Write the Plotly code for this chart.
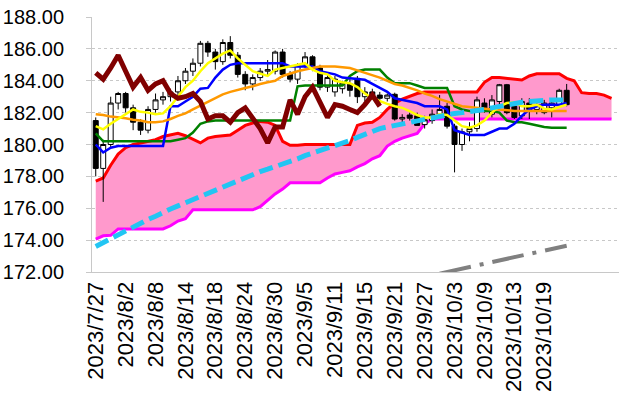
import plotly.graph_objects as go

dates = ["2023/7/27","2023/7/28","2023/7/31","2023/8/1","2023/8/2","2023/8/3","2023/8/4","2023/8/7",
         "2023/8/8","2023/8/9","2023/8/10","2023/8/11","2023/8/14","2023/8/15","2023/8/16","2023/8/17",
         "2023/8/18","2023/8/21","2023/8/22","2023/8/23","2023/8/24","2023/8/25","2023/8/28","2023/8/29",
         "2023/8/30","2023/8/31","2023/9/1","2023/9/4","2023/9/5","2023/9/6","2023/9/7","2023/9/8",
         "2023/9/11","2023/9/12","2023/9/13","2023/9/14","2023/9/15","2023/9/18","2023/9/19","2023/9/20",
         "2023/9/21","2023/9/22","2023/9/25","2023/9/26","2023/9/27","2023/9/28","2023/9/29","2023/10/2",
         "2023/10/3","2023/10/4","2023/10/5","2023/10/6","2023/10/9","2023/10/10","2023/10/11","2023/10/12",
         "2023/10/13","2023/10/16","2023/10/17","2023/10/18","2023/10/19","2023/10/20","2023/10/23","2023/10/24"]
future_dates = ["2023/10/25","2023/10/26","2023/10/27","2023/10/30","2023/10/31","2023/11/1"]
tick_labels = ["2023/7/27","2023/8/2","2023/8/8","2023/8/14","2023/8/18","2023/8/24","2023/8/30","2023/9/5",
               "2023/9/11","2023/9/15","2023/9/21","2023/9/27","2023/10/3","2023/10/9","2023/10/13","2023/10/19"]

open_ = [181.5,178.5,180.0,182.6,183.2,182.3,181.4,180.9,182.2,182.8,183.0,183.3,184.0,184.6,185.1,186.35,
         185.8,185.2,186.4,185.6,184.4,183.8,184.2,184.6,184.6,185.8,184.4,184.1,185.0,185.5,184.8,183.6,
         183.3,183.5,183.8,184.15,183.0,183.3,183.1,182.9,183.15,181.6,181.85,181.8,181.25,181.5,181.9,182.4,
         181.15,180.0,180.8,181.0,182.6,181.9,182.7,183.75,182.4,181.8,182.6,182.2,182.0,182.3,182.5,183.4]
high = [181.7,180.3,183.0,183.3,183.3,182.5,181.6,182.4,183.2,183.3,183.5,184.3,184.8,185.4,186.5,186.5,
        186.0,186.6,186.8,185.8,184.6,184.4,184.8,185.3,185.9,186.0,184.6,185.1,185.8,185.6,185.0,184.4,
        184.3,184.0,184.2,184.3,183.6,183.5,183.3,183.2,183.25,181.9,182.0,182.0,181.8,182.2,183.1,182.6,
        181.3,181.0,181.4,183.0,182.9,183.1,183.8,183.8,182.6,182.9,182.9,182.7,182.8,182.7,183.5,183.8]
low = [178.0,176.4,179.8,182.2,182.0,180.9,180.6,180.7,182.0,182.5,182.7,182.9,183.8,184.3,184.9,185.5,
       184.7,185.0,185.4,184.2,183.4,183.4,184.0,184.3,184.4,184.2,183.9,183.8,184.8,184.6,183.4,183.3,
       183.0,183.2,183.0,182.6,182.7,182.8,182.6,182.7,181.5,181.3,181.5,181.2,181.0,181.3,181.6,181.0,
       178.25,179.6,180.2,180.8,182.0,181.7,182.5,181.9,181.6,181.6,181.6,181.9,181.9,181.7,182.3,182.4]
close = [178.5,180.0,182.6,183.2,182.3,181.4,180.9,182.2,182.8,183.0,183.3,184.0,184.6,185.1,186.35,185.8,
         185.2,186.4,185.6,184.4,183.8,184.2,184.6,184.7,185.8,184.4,184.1,185.0,185.5,184.8,183.6,184.2,
         184.1,183.85,183.4,183.0,183.3,183.1,182.9,183.1,181.6,181.7,181.65,181.2,181.55,181.9,182.2,181.15,
         180.0,180.8,181.0,182.8,182.1,182.8,183.75,182.0,181.7,182.7,182.2,182.5,182.6,182.6,183.4,182.5]

tenkan = [180.0,179.5,179.8,179.9,179.9,179.9,179.9,179.9,179.9,179.9,182.4,182.4,182.7,183.0,183.5,183.55,
          184.2,184.7,185.0,185.1,185.1,185.1,185.1,185.1,185.1,185.1,184.9,184.9,184.9,184.9,184.6,184.5,
          184.4,184.2,184.15,184.1,184.06,183.8,183.55,183.3,182.9,182.8,182.7,182.6,182.4,182.4,182.4,182.2,
          180.9,180.75,180.6,180.6,180.6,180.8,181.0,181.0,181.3,181.8,182.2,182.4,182.5,182.5,182.5,182.6]
kijun = [180.7,180.2,180.2,180.2,180.2,180.2,180.2,180.2,180.2,180.2,180.2,180.3,180.4,180.75,181.3,181.45,
         181.5,181.5,181.5,181.5,181.5,181.5,181.5,181.5,181.5,181.5,181.5,183.65,183.7,183.7,183.7,183.7,
         183.7,183.7,184.3,184.6,184.7,184.7,184.7,184.2,183.85,183.85,183.85,183.7,183.55,183.55,183.55,183.55,
         182.4,182.2,182.1,182.1,182.1,182.1,182.0,181.5,181.4,181.4,181.3,181.2,181.1,181.05,181.05,181.05]
ma_short = [181.15,180.95,181.3,181.6,181.9,182.2,182.05,182.0,181.9,181.95,182.4,183.0,183.6,184.0,184.6,185.1,
            185.4,185.7,185.9,185.4,185.0,184.6,184.45,184.3,184.7,184.8,184.9,185.0,185.1,184.7,184.5,184.4,
            184.0,183.9,183.85,183.6,183.2,182.9,182.7,182.55,182.4,182.3,182.1,181.85,181.7,181.7,181.9,181.85,
            181.5,181.15,181.05,181.2,181.5,182.0,182.4,182.6,182.65,182.4,182.4,182.5,182.25,182.2,182.35,182.5]
ma_mid = [181.9,181.85,181.75,181.7,181.65,181.55,181.5,181.4,181.4,181.45,181.6,181.8,181.95,182.2,182.45,182.7,
          182.95,183.15,183.3,183.45,183.55,183.65,183.8,183.9,184.0,184.3,184.45,184.6,184.7,184.8,184.9,184.9,
          184.9,184.85,184.8,184.65,184.5,184.35,184.2,184.0,183.8,183.7,183.55,183.4,183.2,183.05,182.85,182.7,
          182.55,182.4,182.35,182.3,182.25,182.2,182.2,182.15,182.1,182.1,182.1,182.1,182.1,182.1,182.1,182.1]
ma_long = [173.6,173.85,174.1,174.35,174.6,174.8,175.05,175.3,175.5,175.75,175.95,176.15,176.35,176.55,176.75,176.95,
           177.15,177.35,177.55,177.75,177.95,178.1,178.3,178.45,178.6,178.8,178.95,179.1,179.3,179.45,179.6,179.75,
           179.9,180.05,180.25,180.45,180.65,180.85,181.0,181.1,181.2,181.3,181.35,181.45,181.55,181.7,181.8,181.9,
           181.95,182.0,182.05,182.1,182.2,182.3,182.4,182.5,182.6,182.65,182.7,182.75,182.75,182.8,182.8,182.8]
trend_dates = dates[46:64]
trend_vals = [171.9,172.0,172.1,172.2,172.3,172.4,172.5,172.6,172.7,172.8,172.9,173.0,173.1,173.2,173.3,173.4,173.5,173.65]
chikou = [184.5,184.1,184.8,185.6,184.6,183.6,184.2,183.4,183.8,184.0,183.2,182.9,183.0,183.2,182.7,181.6,
          181.8,181.8,181.4,182.0,182.3,181.6,181.0,180.1,181.1,181.1,182.8,181.9,183.0,183.6,182.6,181.7,
          182.5,182.4,182.2,182.0,182.5,183.1,182.4]
span_a = [177.7,177.9,178.7,179.4,179.8,180.0,180.1,180.2,180.3,180.5,180.6,180.7,180.55,180.3,180.1,180.4,
          180.5,180.55,180.6,180.9,181.2,181.35,181.45,181.4,181.2,180.2,179.95,179.95,180.0,180.0,180.0,180.0,
          180.0,180.0,180.0,181.2,181.35,181.4,181.7,182.2,182.6,182.85,183.05,183.2,183.3,183.3,183.3,183.3,
          183.3,183.3,183.3,183.3,183.9,184.2,184.2,184.15,184.1,184.05,184.3,184.44,184.44,184.44,184.44,184.15,
          184.0,183.25,183.2,183.2,183.1,182.9]
span_b = [174.06,174.27,174.3,174.7,174.7,174.7,174.7,174.7,174.7,174.7,174.9,175.2,175.35,175.9,175.9,175.9,
          175.9,175.9,175.9,175.9,175.9,175.9,176.1,176.5,176.9,177.2,177.6,177.6,177.6,177.6,177.6,177.9,
          178.15,178.25,178.35,178.6,178.8,179.1,179.3,179.9,180.2,180.4,180.55,180.7,181.3,181.6,181.6,181.6,
          181.6,181.6,181.6,181.6,181.6,181.6,181.6,181.6,181.6,181.6,181.6,181.6,181.6,181.6,181.6,181.6,
          181.6,181.6,181.6,181.6,181.6,181.6]

all_dates = dates + future_dates

fig = go.Figure()
# cloud on base axes (drawn beneath candles)
fig.add_trace(go.Scatter(x=all_dates, y=span_b, mode="lines", line=dict(color="#FF00FF", width=3),
                         xaxis="x", yaxis="y"))
fig.add_trace(go.Scatter(x=all_dates, y=span_a, mode="lines", line=dict(color="#FF0000", width=3),
                         fill="tonexty", fillcolor="#FF99CC", xaxis="x", yaxis="y"))
# candles and indicator lines on overlay axes
fig.add_trace(go.Candlestick(x=dates, open=open_, high=high, low=low, close=close,
                             increasing=dict(fillcolor="#FFFFFF", line=dict(color="#000000", width=1)),
                             decreasing=dict(fillcolor="#000000", line=dict(color="#000000", width=1)),
                             whiskerwidth=0, xaxis="x2", yaxis="y2"))
fig.add_trace(go.Scatter(x=dates, y=kijun, mode="lines", line=dict(color="#008000", width=2.5), xaxis="x2", yaxis="y2"))
fig.add_trace(go.Scatter(x=dates, y=tenkan, mode="lines", line=dict(color="#0000FF", width=2.5), xaxis="x2", yaxis="y2"))
fig.add_trace(go.Scatter(x=dates, y=ma_mid, mode="lines", line=dict(color="#FF9900", width=2.5), xaxis="x2", yaxis="y2"))
fig.add_trace(go.Scatter(x=dates, y=ma_short, mode="lines", line=dict(color="#FFFF00", width=2.5), xaxis="x2", yaxis="y2"))
fig.add_trace(go.Scatter(x=dates[:len(chikou)], y=chikou, mode="lines", line=dict(color="#800000", width=5),
                         xaxis="x2", yaxis="y2"))
fig.add_trace(go.Scatter(x=dates, y=ma_long, mode="lines", line=dict(color="#22C5F3", width=5, dash="14px,6px"),
                         xaxis="x2", yaxis="y2"))
fig.add_trace(go.Scatter(x=trend_dates, y=trend_vals, mode="lines",
                         line=dict(color="#808080", width=4, dash="32px,9px,4px,9px"), xaxis="x2", yaxis="y2"))

xr = [-0.5, 70]
yr = [172, 188]
grid = "#C8C8C8"
fig.update_layout(
    width=619, height=394, margin=dict(l=92, r=0, t=17, b=122, autoexpand=False),
    paper_bgcolor="white", plot_bgcolor="white", showlegend=False, boxgap=0.05, hovermode=False,
    font=dict(family="Liberation Sans, Arial, sans-serif", color="#000000"),
    xaxis=dict(type="category", categoryorder="array", categoryarray=all_dates, range=xr,
               tickmode="array", tickvals=tick_labels, ticktext=tick_labels, tickangle=-90,
               tickfont=dict(size=22), showgrid=False, showline=True, linecolor=grid, linewidth=1,
               ticks="", rangeslider=dict(visible=False), fixedrange=True, automargin=False),
    yaxis=dict(range=yr, tickvals=[172,174,176,178,180,182,184,186,188], tickformat=".2f",
               tickfont=dict(size=20), showgrid=True, gridcolor=grid, griddash="dot", gridwidth=1,
               showline=True, linecolor=grid, linewidth=1, ticks="outside", ticklen=5, tickcolor=grid,
               ticklabelstandoff=18, zeroline=False, fixedrange=True, automargin=False),
    xaxis2=dict(type="category", categoryorder="array", categoryarray=all_dates, range=xr,
                overlaying="x", visible=False, rangeslider=dict(visible=False), fixedrange=True, automargin=False),
    yaxis2=dict(range=yr, overlaying="y", visible=False, fixedrange=True, automargin=False),
)

# remove the default page margin so the figure sits at the window's top-left corner
fig.write_html("out.html", config={"displayModeBar": False, "staticPlot": True},
               post_script="document.body.style.margin='0';")
